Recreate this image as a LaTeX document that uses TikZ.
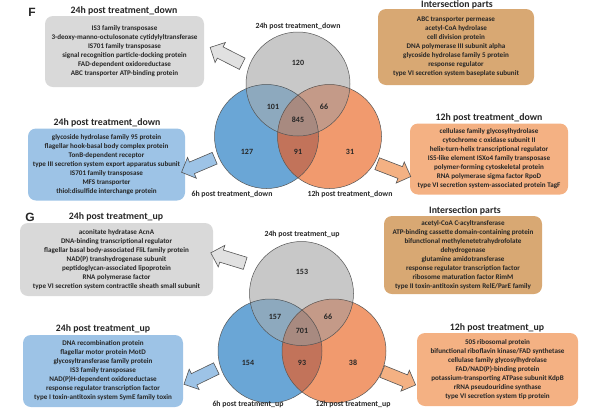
\documentclass[tikz,border=0pt]{standalone}
\usepackage{fontspec}
\setmainfont{Carlito}
\newfontfamily\panelfont{Liberation Sans}
\usetikzlibrary{shapes.arrows}
\definecolor{txt}{HTML}{262626}
\definecolor{boxgray}{HTML}{D9D9D9}
\definecolor{boxtan}{HTML}{D8A873}
\definecolor{boxblue}{HTML}{9DC3E6}
\definecolor{boxorange}{HTML}{F4B183}
\definecolor{vg}{HTML}{C8C8C8}
\definecolor{vb}{HTML}{6AA6D6}
\definecolor{vo}{HTML}{F19A6E}
\definecolor{vgb}{HTML}{8DA9BE}
\definecolor{vgo}{HTML}{C49A88}
\definecolor{vbo}{HTML}{C2735A}
\definecolor{vgbo}{HTML}{A88A80}
\definecolor{edge}{HTML}{555555}
\newcommand\myvenn[3]{%
  \fill[vg] (#1) circle (52);
  \fill[vb] (#2) circle (52);
  \fill[vo] (#3) circle (52);
  \begin{scope}\clip (#1) circle (52); \fill[vgb] (#2) circle (52);\end{scope}
  \begin{scope}\clip (#1) circle (52); \fill[vgo] (#3) circle (52);\end{scope}
  \begin{scope}\clip (#2) circle (52); \fill[vbo] (#3) circle (52);\end{scope}
  \begin{scope}\clip (#1) circle (52); \clip (#2) circle (52); \fill[vgbo] (#3) circle (52);\end{scope}
  \draw[edge, line width=0.5pt] (#1) circle (52) (#2) circle (52) (#3) circle (52);
}
\begin{document}
\begin{tikzpicture}[x=1pt,y=-1pt,
  listbox/.style={rounded corners=8pt, align=center, inner sep=0pt, text=txt,
     font=\bfseries\fontsize{7.1}{9}\selectfont},
  title/.style={text=txt, font=\bfseries\fontsize{9.8}{11}\selectfont},
  vlabel/.style={text=txt, font=\bfseries\fontsize{7.8}{9}\selectfont},
  num/.style={text=txt, font=\bfseries\fontsize{8}{9}\selectfont},
  panel/.style={text=txt, font=\panelfont\bfseries\fontsize{12}{12}\selectfont},
  blockarrow/.style={single arrow, draw=edge, line width=0.6pt, minimum height=36pt,
     inner xsep=0pt, inner ysep=6pt, single arrow head extend=5pt, anchor=center}
]
\useasboundingbox (0,0) rectangle (589,408);

% ---------------- Panel F ----------------
\node[panel] (F) at (32,12) {F};
\coordinate (Fg) at (298,84);
\coordinate (Fb) at (266.5,136.5);
\coordinate (Fo) at (329.5,136.5);
\myvenn{Fg}{Fb}{Fo}
\node[num] (F120) at (298,63) {120};
\node[num] (F101) at (273,107) {101};
\node[num] (F66) at (324,107) {66};
\node[num] (F845) at (298,120) {845};
\node[num] (F127) at (247,152) {127};
\node[num] (F91) at (298,152) {91};
\node[num] (F31) at (350,152) {31};
\node[vlabel] (Flg) at (298,26) {24h post treatment\_down};
\node[vlabel] (Flb) at (232,194) {6h post treatment\_down};
\node[vlabel] (Flo) at (350,194) {12h post treatment\_down};

\node[title] (Ft1) at (124,11) {24h post treatment\_down};
\node[listbox, fill=boxgray, minimum width=159pt, minimum height=71pt] (Fbox1) at (124.5,51.5)
 {IS3 family transposase\\3-deoxy-manno-octulosonate cytidylyltransferase\\IS701 family transposase\\signal recognition particle-docking protein\\FAD-dependent oxidoreductase\\ABC transporter ATP-binding protein};

\node[title] (Ft2) at (457,5) {Intersection parts};
\node[listbox, fill=boxtan, minimum width=156pt, minimum height=76pt] (Fbox2) at (456,47)
 {ABC transporter permease\\acetyl-CoA hydrolase\\cell division protein\\DNA polymerase III subunit alpha\\glycoside hydrolase family 5 protein\\response regulator\\type VI secretion system baseplate subunit};

\node[title] (Ft3) at (107,123) {24h post treatment\_down};
\node[listbox, fill=boxblue, minimum width=157pt, minimum height=72pt] (Fbox3) at (106.5,164.5)
 {glycoside hydrolase family 95 protein\\flagellar hook-basal body complex protein\\TonB-dependent receptor\\type III secretion system export apparatus subunit\\IS701 family transposase\\MFS transporter\\thiol:disulfide interchange protein};

\node[title] (Ft4) at (489,118) {12h post treatment\_down};
\node[listbox, fill=boxorange, minimum width=158pt, minimum height=71pt] (Fbox4) at (489,159)
 {cellulase family glycosylhydrolase\\cytochrome c oxidase subunit II\\helix-turn-helix transcriptional regulator\\IS5-like element ISXo4 family transposase\\polymer-forming cytoskeletal protein\\RNA polymerase sigma factor RpoD\\type VI secretion system-associated protein TagF};

\node[blockarrow, fill=boxgray!80, rotate=153] (Fa1) at (229,57) {};
\node[blockarrow, fill=boxblue, rotate=203] (Fa2) at (201,164) {};
\node[blockarrow, fill=boxorange, rotate=-21] (Fa3) at (391,169) {};

% ---------------- Panel G ----------------
\node[panel] (G) at (30,217) {G};
\coordinate (Gg) at (301.5,293.5);
\coordinate (Gb) at (270,351);
\coordinate (Go) at (334,351);
\myvenn{Gg}{Gb}{Go}
\node[num] (G153) at (302,272) {153};
\node[num] (G157) at (275,317) {157};
\node[num] (G66) at (328,317) {66};
\node[num] (G701) at (302,331) {701};
\node[num] (G154) at (248,363) {154};
\node[num] (G93) at (302,363) {93};
\node[num] (G38) at (353,363) {38};
\node[vlabel] (Glg) at (302,234) {24h post treatment\_up};
\node[vlabel] (Glb) at (248,404) {6h post treatment\_up};
\node[vlabel] (Glo) at (353,404) {12h post treatment\_up};

\node[title] (Gt1) at (116,217) {24h post treatment\_up};
\node[listbox, fill=boxgray, minimum width=193pt, minimum height=73pt] (Gbox1) at (116.5,259.5)
 {aconitate hydratase AcnA\\DNA-binding transcriptional regulator\\flagellar basal body-associated FliL family protein\\NAD(P) transhydrogenase subunit\\peptidoglycan-associated lipoprotein\\RNA polymerase factor\\type VI secretion system contractile sheath small subunit};

\node[title] (Gt2) at (465,211) {Intersection parts};
\node[listbox, fill=boxtan, minimum width=158pt, minimum height=78pt] (Gbox2) at (463,255)
 {acetyl-CoA C-acyltransferase\\ATP-binding cassette domain-containing protein\\bifunctional methylenetetrahydrofolate\\dehydrogenase\\glutamine amidotransferase\\response regulator transcription factor\\ribosome maturation factor RimM\\type II toxin-antitoxin system RelE/ParE family};

\node[title] (Gt3) at (103,329) {24h post treatment\_up};
\node[listbox, fill=boxblue, minimum width=160pt, minimum height=72pt] (Gbox3) at (103,371)
 {DNA recombination protein\\flagellar motor protein MotD\\glycosyltransferase family protein\\IS3 family transposase\\NAD(P)H-dependent oxidoreductase\\response regulator transcription factor\\type I toxin-antitoxin system SymE family toxin};

\node[title] (Gt4) at (497,328) {12h post treatment\_up};
\node[listbox, fill=boxorange, minimum width=161pt, minimum height=73pt] (Gbox4) at (497.5,369.5)
 {50S ribosomal protein\\bifunctional riboflavin kinase/FAD synthetase\\cellulase family glycosylhydrolase\\FAD/NAD(P)-binding protein\\potassium-transporting ATPase subunit KdpB\\rRNA pseudouridine synthase\\type VI secretion system tip protein};

\node[blockarrow, fill=boxgray!80, rotate=163] (Ga1) at (231,259) {};
\node[blockarrow, fill=boxblue, rotate=206] (Ga2) at (203,375) {};
\node[blockarrow, fill=boxorange, rotate=-22] (Ga3) at (396,377) {};
\end{tikzpicture}
\end{document}
